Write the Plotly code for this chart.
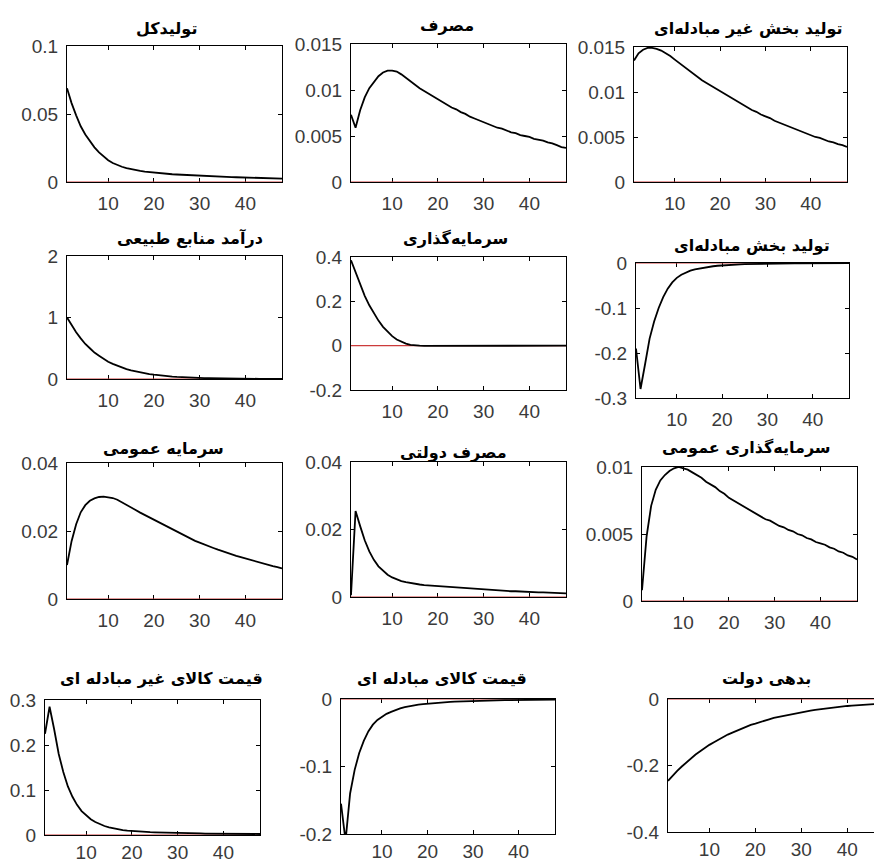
import plotly.graph_objects as go

W, H = 874, 864
periods = list(range(1, 49))

titles = [
    "تولیدکل",
    "مصرف",
    "تولید بخش غیر مبادله\u200cای",
    "درآمد منابع طبیعی",
    "سرمایه\u200cگذاری",
    "تولید بخش مبادله\u200cای",
    "سرمایه عمومی",
    "مصرف دولتی",
    "سرمایه\u200cگذاری عمومی",
    "قیمت کالای غیر مبادله ای",
    "قیمت کالای مبادله ای",
    "بدهی دولت",
]

total_output = [0.069, 0.058, 0.049, 0.041, 0.035, 0.030, 0.0255, 0.0218, 0.0186, 0.0160,
                0.0140, 0.0124, 0.0112, 0.0102, 0.0094, 0.0087, 0.0081, 0.0076, 0.0072, 0.0068,
                0.0065, 0.0062, 0.0059, 0.0057, 0.0055, 0.0053, 0.0051, 0.0049, 0.0047, 0.0046,
                0.0044, 0.0043, 0.0041, 0.0040, 0.0039, 0.0037, 0.0036, 0.0035, 0.0034, 0.0033,
                0.0032, 0.0031, 0.0030, 0.0029, 0.0028, 0.0027, 0.0026, 0.0025]
consumption = [0.0073, 0.0059, 0.0078, 0.0092, 0.0102, 0.0109, 0.0115, 0.0119, 0.0121, 0.0121,
               0.0120, 0.0117, 0.0113, 0.0109, 0.0105, 0.0102, 0.0099, 0.0096, 0.0093, 0.0090,
               0.0087, 0.0084, 0.0081, 0.0079, 0.0076, 0.0074, 0.0071, 0.0069, 0.0067, 0.0065,
               0.0063, 0.0061, 0.0059, 0.0058, 0.0056, 0.0054, 0.0053, 0.0051, 0.0050, 0.0049,
               0.0047, 0.0046, 0.0045, 0.0043, 0.0042, 0.0040, 0.0038, 0.0037]
nontradable_output = [0.0135, 0.0143, 0.0147, 0.0149, 0.0149, 0.0148, 0.0146, 0.0143, 0.0140, 0.0136,
                      0.0132, 0.0128, 0.0124, 0.0120, 0.0117, 0.0113, 0.0110, 0.0107, 0.0104, 0.0101,
                      0.0098, 0.0095, 0.0092, 0.0089, 0.0086, 0.0083, 0.0080, 0.0078, 0.0075, 0.0073,
                      0.0071, 0.0068, 0.0066, 0.0064, 0.0062, 0.0060, 0.0058, 0.0056, 0.0054, 0.0052,
                      0.0050, 0.0049, 0.0047, 0.0045, 0.0044, 0.0042, 0.0041, 0.0039]
resource_income = [1.0, 0.87, 0.76, 0.66, 0.57, 0.50, 0.43, 0.38, 0.33, 0.28,
                   0.245, 0.213, 0.185, 0.16, 0.14, 0.122, 0.106, 0.092, 0.08, 0.07,
                   0.06, 0.052, 0.045, 0.04, 0.035, 0.03, 0.026, 0.022, 0.019, 0.017,
                   0.015, 0.013, 0.011, 0.0095, 0.0083, 0.0072, 0.0062, 0.0054, 0.0047, 0.0041,
                   0.0035, 0.003, 0.0026, 0.0023, 0.002, 0.0017, 0.0015, 0.0013]
investment = [0.385, 0.330, 0.275, 0.225, 0.182, 0.145, 0.113, 0.085, 0.062, 0.043,
              0.028, 0.017, 0.009, 0.004, 0.001, 0.0, -0.001, -0.001, -0.001, -0.001,
              -0.001, -0.001, -0.001, -0.001, -0.001, -0.0008, -0.0008, -0.0007, -0.0007, -0.0006,
              -0.0006, -0.0005, -0.0005, -0.0005, -0.0004, -0.0004, -0.0004, -0.0003, -0.0003, -0.0003,
              -0.0003, -0.0002, -0.0002, -0.0002, -0.0002, -0.0002, -0.0001, -0.0001]
tradable_output = [-0.190, -0.280, -0.225, -0.168, -0.130, -0.100, -0.076, -0.057, -0.043, -0.033,
                   -0.026, -0.021, -0.017, -0.014, -0.012, -0.010, -0.0085, -0.0072, -0.0061, -0.0052,
                   -0.0045, -0.0039, -0.0034, -0.0030, -0.0026, -0.0023, -0.0020, -0.0018, -0.0016, -0.0014,
                   -0.0012, -0.0011, -0.0010, -0.0009, -0.0008, -0.0007, -0.0006, -0.0006, -0.0005, -0.0005,
                   -0.0004, -0.0004, -0.0003, -0.0003, -0.0003, -0.0002, -0.0002, -0.0002]
public_capital = [0.0100, 0.0170, 0.0220, 0.0255, 0.0276, 0.0289, 0.0296, 0.0300, 0.0301, 0.0300,
                  0.0297, 0.0292, 0.0285, 0.0277, 0.0269, 0.0262, 0.0254, 0.0247, 0.0239, 0.0232,
                  0.0225, 0.0218, 0.0211, 0.0204, 0.0197, 0.0190, 0.0184, 0.0177, 0.0171, 0.0166,
                  0.0160, 0.0155, 0.0150, 0.0145, 0.0140, 0.0136, 0.0131, 0.0127, 0.0123, 0.0119,
                  0.0115, 0.0111, 0.0107, 0.0104, 0.0100, 0.0097, 0.0094, 0.0090]
gov_consumption = [0.0005, 0.0255, 0.0210, 0.0168, 0.0135, 0.0110, 0.0091, 0.0077, 0.0066, 0.0058,
                   0.0052, 0.0047, 0.0044, 0.0041, 0.0039, 0.0037, 0.0035, 0.0034, 0.0032, 0.0031,
                   0.0030, 0.0029, 0.0028, 0.0027, 0.0026, 0.0025, 0.0024, 0.0023, 0.0022, 0.0021,
                   0.0021, 0.0020, 0.0019, 0.0019, 0.0018, 0.0017, 0.0017, 0.0016, 0.0016, 0.0015,
                   0.0015, 0.0014, 0.0014, 0.0013, 0.0013, 0.0012, 0.0012, 0.0011]
public_investment = [0.0008, 0.0048, 0.0071, 0.0083, 0.0090, 0.0094, 0.0097, 0.0099, 0.0100, 0.0099,
                     0.0098, 0.0096, 0.0094, 0.0092, 0.0089, 0.0087, 0.0085, 0.0082, 0.0080, 0.0077,
                     0.0075, 0.0073, 0.0071, 0.0069, 0.0067, 0.0065, 0.0063, 0.0061, 0.0060, 0.0058,
                     0.0056, 0.0055, 0.0053, 0.0052, 0.0050, 0.0049, 0.0047, 0.0046, 0.0044, 0.0043,
                     0.0042, 0.0040, 0.0039, 0.0037, 0.0036, 0.0034, 0.0033, 0.0031]
nontradable_price = [0.225, 0.285, 0.235, 0.180, 0.140, 0.108, 0.085, 0.067, 0.053, 0.043,
                     0.035, 0.029, 0.024, 0.020, 0.017, 0.0145, 0.0125, 0.011, 0.0098, 0.0088,
                     0.0080, 0.0073, 0.0067, 0.0062, 0.0058, 0.0054, 0.0051, 0.0048, 0.0045, 0.0043,
                     0.0041, 0.0039, 0.0037, 0.0035, 0.0034, 0.0032, 0.0031, 0.0030, 0.0029, 0.0028,
                     0.0027, 0.0026, 0.0025, 0.0024, 0.0024, 0.0023, 0.0022, 0.0022]
tradable_price = [-0.155, -0.210, -0.140, -0.105, -0.080, -0.062, -0.048, -0.038, -0.031, -0.026,
                  -0.022, -0.019, -0.016, -0.014, -0.012, -0.0105, -0.0093, -0.0083, -0.0075, -0.0068,
                  -0.0062, -0.0056, -0.0051, -0.0047, -0.0043, -0.0039, -0.0036, -0.0033, -0.0030, -0.0028,
                  -0.0026, -0.0024, -0.0022, -0.0021, -0.0019, -0.0018, -0.0017, -0.0016, -0.0015, -0.0014,
                  -0.0013, -0.0012, -0.0012, -0.0011, -0.0010, -0.0010, -0.0009, -0.0009]
gov_debt = [-0.246, -0.230, -0.216, -0.203, -0.190, -0.178, -0.167, -0.157, -0.147, -0.138,
            -0.130, -0.122, -0.114, -0.107, -0.101, -0.095, -0.089, -0.083, -0.078, -0.074,
            -0.069, -0.065, -0.061, -0.057, -0.054, -0.051, -0.048, -0.045, -0.042, -0.040,
            -0.037, -0.035, -0.033, -0.031, -0.029, -0.027, -0.026, -0.024, -0.023, -0.021,
            -0.020, -0.019, -0.018, -0.017, -0.016, -0.015, -0.014, -0.013]

series = [total_output, consumption, nontradable_output, resource_income, investment,
          tradable_output, public_capital, gov_consumption, public_investment,
          nontradable_price, tradable_price, gov_debt]

y_ranges = [[0, 0.1], [0, 0.015], [0, 0.015], [0, 2], [-0.2, 0.4], [-0.3, 0],
            [0, 0.04], [0, 0.04], [0, 0.01], [0, 0.3], [-0.2, 0], [-0.4, 0]]
y_tickvals = [[0, 0.05, 0.1], [0, 0.005, 0.01, 0.015], [0, 0.005, 0.01, 0.015], [0, 1, 2],
              [-0.2, 0, 0.2, 0.4], [-0.3, -0.2, -0.1, 0], [0, 0.02, 0.04], [0, 0.02, 0.04],
              [0, 0.005, 0.01], [0, 0.1, 0.2, 0.3], [-0.2, -0.1, 0], [-0.4, -0.2, 0]]
y_ticktext = [["0", "0.05", "0.1"], ["0", "0.005", "0.01", "0.015"], ["0", "0.005", "0.01", "0.015"],
              ["0", "1", "2"], ["-0.2", "0", "0.2", "0.4"], ["-0.3", "-0.2", "-0.1", "0"],
              ["0", "0.02", "0.04"], ["0", "0.02", "0.04"], ["0", "0.005", "0.01"],
              ["0", "0.1", "0.2", "0.3"], ["-0.2", "-0.1", "0"], ["-0.4", "-0.2", "0"]]
x_tickvals = [10, 20, 30, 40]
x_ticktext = ["10", "20", "30", "40"]
x_ranges = [[1, 48]] * 11 + [[1, 45.8]]

# panel boxes in pixels: left, right, top, bottom
boxes = [(67, 282, 46, 182), (351, 566, 44, 182), (634, 847, 47, 182),
         (67, 282, 256, 379), (351, 566, 257, 390), (636, 849, 263, 398),
         (67, 282, 463, 599), (351, 566, 462, 597), (642, 857, 467, 601),
         (45, 260, 700, 835), (341, 555, 699, 834), (668, 874, 699, 832)]
title_pos = [(166, 28), (447, 26), (748, 28),
             (190, 238), (455, 238), (752, 245),
             (163, 448), (453, 452), (746, 447),
             (161, 678), (442, 678), (766, 678)]

fig = go.Figure()
tick_font = dict(family="Liberation Sans, Arial, sans-serif", size=19, color="#3a3a3a")
layout = dict(
    width=W, height=H, autosize=False,
    margin=dict(l=0, r=0, t=0, b=0, pad=0),
    paper_bgcolor="white", plot_bgcolor="white",
    showlegend=False,
    annotations=[],
)

for i in range(12):
    n = i + 1
    xa = "x" if n == 1 else f"x{n}"
    ya = "y" if n == 1 else f"y{n}"
    fig.add_trace(go.Scatter(x=[periods[0], periods[-1]], y=[0, 0], xaxis=xa, yaxis=ya,
                             mode="lines", line=dict(color="#cc3b3b", width=1.2),
                             hoverinfo="skip"))
    fig.add_trace(go.Scatter(x=periods, y=series[i], xaxis=xa, yaxis=ya,
                             mode="lines", line=dict(color="black", width=1.8)))
    l, r, t, b = boxes[i]
    common = dict(showline=True, linecolor="black", linewidth=1, ticks="inside",
                  ticklen=4, tickcolor="black", showgrid=False, zeroline=False,
                  tickfont=tick_font, layer="below traces", fixedrange=True,
                  automargin=False)
    xkey = "xaxis" if n == 1 else f"xaxis{n}"
    ykey = "yaxis" if n == 1 else f"yaxis{n}"
    layout[xkey] = dict(common, domain=[l / W, r / W], anchor=ya, range=x_ranges[i],
                        tickvals=x_tickvals, ticktext=x_ticktext, mirror="ticks",
                        ticklabelstandoff=0 if n >= 10 else 4)
    layout[ykey] = dict(common, domain=[1 - b / H, 1 - t / H], anchor=xa, range=y_ranges[i],
                        tickvals=y_tickvals[i], ticktext=y_ticktext[i],
                        mirror=False if n == 12 else "ticks", ticklabelstandoff=4)
    cx, cy = title_pos[i]
    layout["annotations"].append(dict(
        text="<b>" + titles[i] + "</b>", xref="paper", yref="paper",
        x=cx / W, y=1 - cy / H, xanchor="center", yanchor="middle", showarrow=False,
        font=dict(family="DejaVu Sans, sans-serif", size=16, color="black")))

fig.update_layout(**layout)
fig.write_html("out.html")
